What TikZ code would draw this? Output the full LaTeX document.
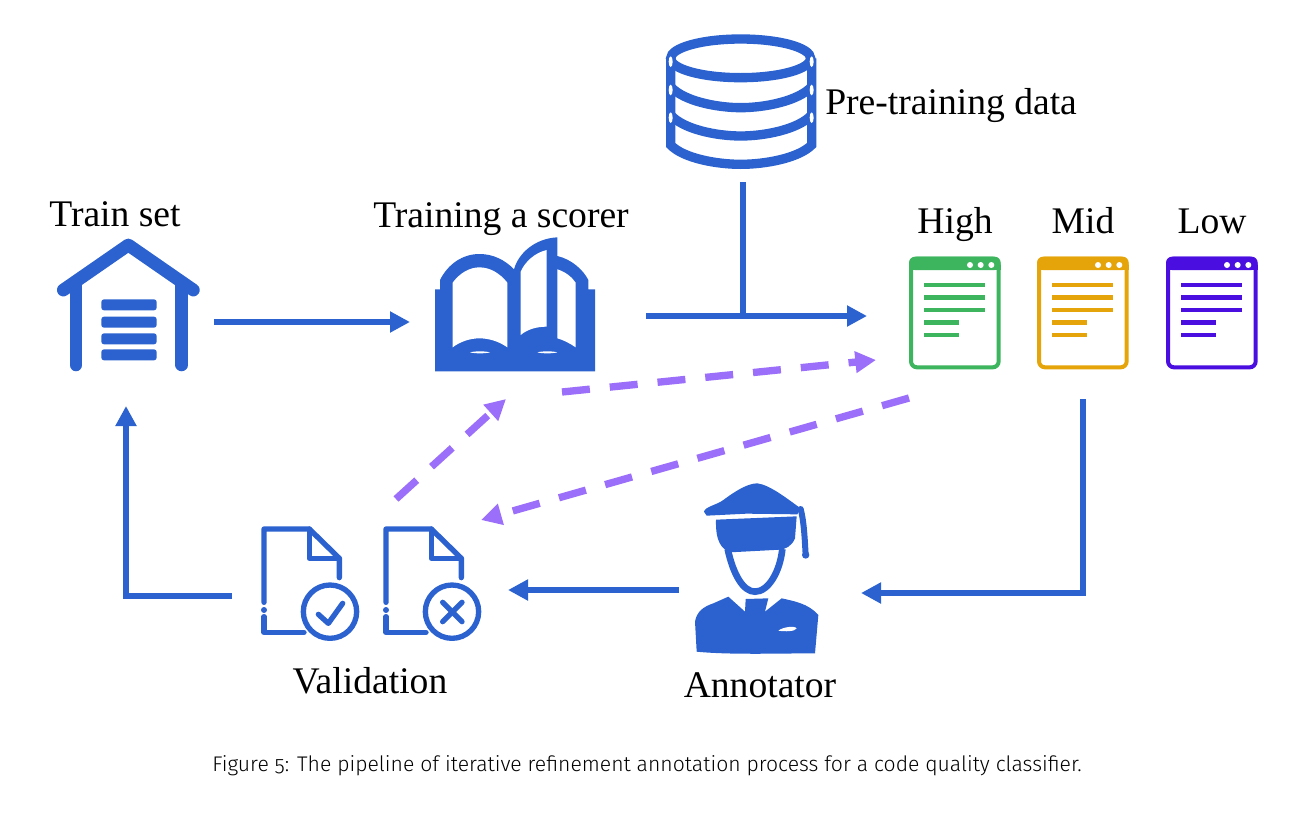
\documentclass[tikz,border=0pt]{standalone}
\usepackage{fontspec}
\setmainfont{Liberation Serif}
\newfontfamily\capfont[Numbers=OldStyle]{Fira Sans Light}
\usetikzlibrary{arrows.meta}
\definecolor{iconblue}{HTML}{2B62D0}
\definecolor{dashviolet}{HTML}{9B6FFA}
\definecolor{gradehigh}{HTML}{3CB55E}
\definecolor{grademid}{HTML}{E5A50A}
\definecolor{gradelow}{HTML}{4A0FE0}
\tikzset{
	iconbox/.style={inner sep=0pt, outer sep=0pt},
	label/.style={font=\fontsize{28.2}{32}\selectfont, inner sep=0pt, anchor=base},
	flowline/.style={draw=iconblue, line width=5pt, -{Triangle[length=15pt,width=15pt]}},
	plainline/.style={draw=iconblue, line width=5pt},
	dashline/.style={draw=dashviolet, line width=5.5pt, dash pattern=on 21pt off 15pt, -{Triangle[length=15.5pt,width=15.5pt]}},
	thinicon/.style={draw=iconblue, line width=4pt, line cap=round, line join=round},
}

\begin{document}
\begin{tikzpicture}[x=.75pt, y=-.75pt]
	\useasboundingbox (0,0) rectangle (1316,814);

	% boxes round the icons, the connectors end on them
	\node[iconbox, minimum width=132pt, minimum height=126pt] (trainicon) at (126,322) {};
	\node[iconbox, minimum width=177pt, minimum height=120pt] (scorericon) at (528,322) {};
	\node[iconbox, minimum width=112.5pt, minimum height=123pt] (dataicon) at (743,100) {};
	\node[iconbox, minimum width=289.5pt, minimum height=90pt] (gradeicons) at (1060,316) {};
	\node[iconbox, minimum width=136.5pt, minimum height=135pt] (annotatoricon) at (770,593) {};
	\node[iconbox, minimum width=207pt, minimum height=90pt] (validicon) at (370,590) {};

	% house
	\begin{scope}[shift={(40,190)}, scale=1/3]
		\draw[iconblue, line width=9.6pt, line cap=round, line join=round] (70,300) -- (265,165) -- (460,300);
		\foreach \x in {108,425} {
			\draw[iconblue, line width=9.4pt, line cap=round] (\x,285) -- (\x,525);
		}
		\foreach \y in {328,380,430,478} {
			\fill[iconblue, rounded corners=2pt] (184,\y) rectangle (350,\y+33);
		}
	\end{scope}

	% book
	\begin{scope}[shift={(420,230)}, scale=1/3]
		\fill[iconblue] (45,424) -- (45,178) -- (60,178) -- (60,150) .. controls (85,100) and (130,72) .. (178,72)
			.. controls (220,72) and (255,90) .. (282,118) .. controls (295,70) and (345,25) .. (412,22)
			-- (412,78) .. controls (455,88) and (490,120) .. (505,150) -- (505,178) -- (525,178) -- (525,424) -- cycle;
		\fill[white] (98,158) .. controls (120,128) and (150,112) .. (178,112) .. controls (210,112) and (240,130) .. (262,158)
			-- (262,352) .. controls (235,333) and (205,325) .. (178,325) .. controls (150,325) and (120,335) .. (98,352) -- cycle;
		\fill[white] (302,125) .. controls (315,95) and (345,68) .. (380,60) -- (380,290) .. controls (350,290) and (322,298) .. (302,315) -- cycle;
		\fill[white] (412,118) .. controls (435,125) and (455,140) .. (467,158) -- (467,352) .. controls (450,340) and (430,330) .. (412,325) -- cycle;
		\fill[white] (150,367) .. controls (165,363) and (195,363) .. (210,367) .. controls (195,371) and (165,371) .. (150,367) -- cycle;
		\fill[white] (352,367) .. controls (367,363) and (397,363) .. (412,367) .. controls (397,371) and (367,371) .. (352,367) -- cycle;
	\end{scope}

	% database
	\begin{scope}[shift={(650,25)}, scale=1/3]
		\draw[iconblue, line width=7pt] (272,100) ellipse (210 and 58);
		\foreach \y in {185,270} {
			\draw[iconblue, line width=7pt] (62,\y) .. controls (100,\y+43) and (200,\y+63) .. (272,\y+63) .. controls (345,\y+63) and (445,\y+43) .. (485,\y);
		}
		\draw[iconblue, line width=7pt] (62,100) -- (62,360) .. controls (100,400) and (200,418) .. (272,418) .. controls (345,418) and (445,400) .. (485,360) -- (485,100);
		\foreach \y in {110,195,278} {
			\fill[white] (62,\y) ellipse (6 and 16);
			\fill[white] (485,\y) ellipse (6 and 16);
		}
	\end{scope}

	% three graded documents
	\foreach \x/\col/\lab in {909/gradehigh/High, 1037/grademid/Mid, 1166/gradelow/Low} {
		\node[iconbox, minimum width=69pt, minimum height=129pt] (doc\lab) at (\x+46,313) {};
		\node[label] (name\lab) at (\x+46,233) {\lab};
		\begin{scope}[shift={(\x-9,250)}, scale=1/3]
			\draw[\col, line width=3pt, rounded corners=4.5pt, fill=white] (33,26) rectangle (296,352);
			\fill[\col, rounded corners=4.5pt] (27,20) -- (302,20) -- (302,60) -- (27,60) -- cycle;
			\fill[\col] (27,45) rectangle (302,60);
			\foreach \dotx in {210,242,274} {
				\fill[white] (\dotx,45) circle (9);
			}
			\foreach \liney/\lineend in {105/256, 142/256, 180/256, 217/178, 255/178} {
				\fill[\col] (72,\liney-7) rectangle (\lineend,\liney+7);
			}
		\end{scope}
	}

	% two validation pages
	\begin{scope}[shift={(250,515)}, scale=1/3]
		\foreach \s in {0,366} {
			\draw[thinicon] (42+\s,262) -- (42+\s,42) -- (178+\s,42) -- (268+\s,130) -- (268+\s,188);
			\draw[thinicon] (178+\s,42) -- (178+\s,130) -- (268+\s,130);
			\fill[iconblue] (42+\s,285) circle (9);
			\draw[thinicon] (42+\s,305) -- (42+\s,352) -- (162+\s,352);
			\draw[thinicon] (240+\s,290) circle (80);
		}
		\draw[thinicon] (205,298) -- (235,325) -- (278,265);
		\draw[thinicon] (578,262) -- (636,320);
		\draw[thinicon] (636,262) -- (578,320);
	\end{scope}

	% annotator
	\begin{scope}[shift={(680,475)}, scale=1/3]
		\fill[iconblue] (72,110) .. controls (75,95) and (110,90) .. (130,75) .. controls (170,45) and (205,25) .. (232,25)
			.. controls (270,30) and (320,70) .. (362,100) -- (352,118) -- (200,116) -- (80,122) -- cycle;
		\draw[iconblue, line width=4.5pt, line cap=round] (362,102) .. controls (372,140) and (374,190) .. (377,240);
		\fill[iconblue] (377,240) circle (11);
		\fill[iconblue] (108,134) -- (350,124) -- (345,190) .. controls (335,215) and (315,222) .. (300,224)
			-- (150,232) .. controls (125,222) and (106,200) .. (108,134) -- cycle;
		\draw[iconblue, line width=5pt] (143,222) .. controls (160,300) and (190,350) .. (225,350) .. controls (265,350) and (300,290) .. (307,222);
		\fill[iconblue] (45,440) .. controls (50,410) and (70,395) .. (100,385) -- (145,365) -- (195,410) -- (197,372) -- (265,370)
			-- (255,410) -- (305,370) .. controls (340,378) and (385,385) .. (415,420) -- (405,535)
			.. controls (300,535) and (150,540) .. (50,530) -- cycle;
		\fill[white] (295,467) .. controls (310,455) and (345,452) .. (350,460) .. controls (345,470) and (315,470) .. (295,467) -- cycle;
	\end{scope}

	% labels
	\node[label] (trainname) at (115,226) {Train set};
	\node[label] (scorername) at (501,227) {Training a scorer};
	\node[label, anchor=base west] (dataname) at (825,114.5) {Pre-training data};
	\node[label] (validname) at (370,693) {Validation};
	\node[label] (annotatorname) at (760,697) {Annotator};
	\node[inner sep=0pt, anchor=base, font=\capfont\fontsize{15.87}{20}\selectfont, text=black] (caption) at (647,771.5) {Figure 5: The pipeline of iterative refinement annotation process for a code quality classifier.};

	% solid connectors
	\coordinate (backcorner) at (126,596);
	\draw[flowline] (trainicon) -- (trainicon -| scorericon.west);
	\draw[flowline] (scorericon.east |- gradeicons) -- (gradeicons.west);
	\draw[plainline] (dataicon.south) -- (dataicon.south |- gradeicons);
	\draw[flowline] (docMid.south) |- (annotatoricon.east);
	\draw[flowline] (annotatoricon.west |- validicon) -- (validicon.east);
	\draw[flowline] (validicon.west |- backcorner) -- (backcorner) -- (trainicon.south);

	% dashed feedback
	\coordinate (feedstart) at (396,499);
	\coordinate (feedend) at (506,399);
	\coordinate (scorestart) at (562,392);
	\coordinate (scoreend) at (876,360);
	\coordinate (rejectstart) at (909,398);
	\coordinate (rejectend) at (481,520);
	\draw[dashline] (feedstart) -- (feedend);
	\draw[dashline] (scorestart) -- (scoreend);
	\draw[dashline] (rejectstart) -- (rejectend);
\end{tikzpicture}
\end{document}
